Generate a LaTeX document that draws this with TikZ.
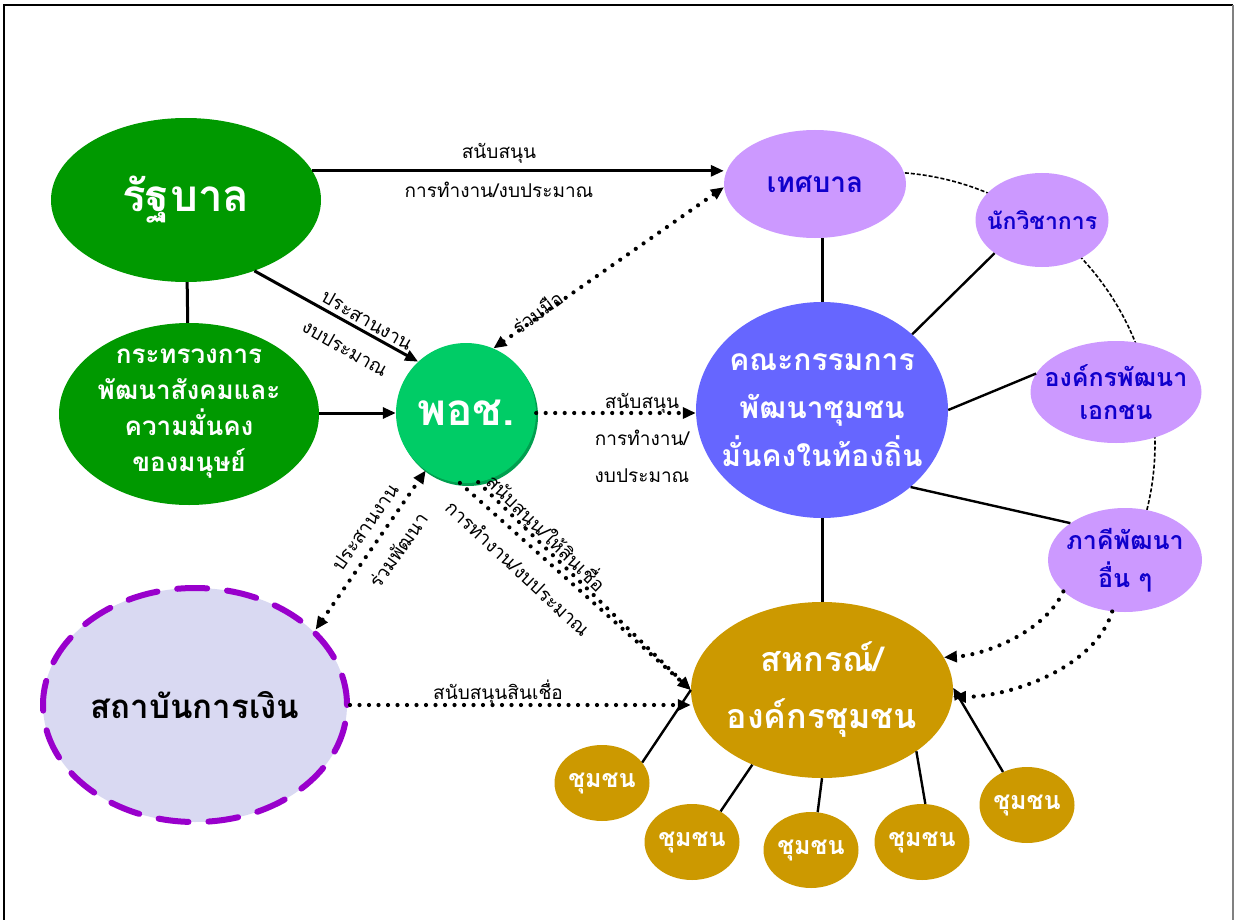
\documentclass[tikz,border=0pt]{standalone}
\usepackage{fontspec}
\setmainfont[Script=Thai]{Loma}
\usetikzlibrary{arrows.meta,shapes.geometric,backgrounds}
\definecolor{govgreen}{HTML}{009900}
\definecolor{pocgreen}{HTML}{00CC66}
\definecolor{pocshade}{HTML}{009F4F}
\definecolor{lilac}{HTML}{CC99FF}
\definecolor{navytext}{HTML}{1000CC}
\definecolor{kanablue}{HTML}{6666FF}
\definecolor{gold}{HTML}{CC9900}
\definecolor{finfill}{HTML}{D9D9F2}
\definecolor{finborder}{HTML}{9900CC}
\newcommand\myfs[2]{\fontsize{#1}{#2}\selectfont}
\begin{document}
\begin{tikzpicture}[x=1pt,y=-1pt,
  blob/.style={ellipse, inner sep=-30pt, align=center},
  lbl/.style={inner sep=0pt, font=\myfs{19}{26}},
  solidline/.style={line width=3pt},
  thinline/.style={line width=2.4pt},
  dotline/.style={line width=4.2pt, dash pattern=on 0pt off 9.5pt, line cap=round},
  arr/.style={-{Triangle[length=13pt,width=11pt]}},
  darr/.style={{Triangle[length=13pt,width=11pt]}-{Triangle[length=13pt,width=11pt]}},
  comm/.style={blob, fill=gold, minimum width=95, minimum height=76, text=white, font=\bfseries\myfs{25}{30}},
  purple/.style={blob, fill=lilac, text=navytext},
]
\useasboundingbox (0,0) rectangle (1236,920);

% nodes
\node[blob, fill=govgreen, minimum width=270, minimum height=164, text=white, font=\bfseries\myfs{44}{50}] (gov) at (186,200) {รัฐบาล};
\node[blob, fill=govgreen, minimum width=260, minimum height=182, text=white, font=\bfseries\myfs{26}{36}] (min) at (189,414) {กระทรวงการ\\พัฒนาสังคมและ\\ความมั่นคง\\ของมนุษย์};
\fill[pocshade] (468,416) circle[radius=70];
\node[circle, inner sep=0pt, fill=pocgreen, minimum size=140, text=white, font=\bfseries\myfs{44}{50}] (poc) at (466,413) {พอช.};
\node[purple, minimum width=182, minimum height=108, font=\bfseries\myfs{28}{32}] (tes) at (815,184) {เทศบาล};
\node[purple, minimum width=133, minimum height=94, font=\bfseries\myfs{23}{28}] (aca) at (1042,220) {นักวิชาการ};
\node[purple, minimum width=171, minimum height=102, font=\bfseries\myfs{25}{33}] (ngo) at (1116,392) {องค์กรพัฒนา\\เอกชน};
\node[purple, minimum width=154, minimum height=104, font=\bfseries\myfs{25}{38}] (oth) at (1125,560) {ภาคีพัฒนา\\อื่น ๆ};
\node[blob, fill=kanablue, minimum width=252, minimum height=216, text=white, font=\bfseries\myfs{30}{48}] (kana) at (822,410) {คณะกรรมการ\\พัฒนาชุมชน\\มั่นคงในท้องถิ่น};
\node[blob, fill=gold, minimum width=262, minimum height=176, text=white, font=\bfseries\myfs{34}{57}] (coop) at (822,690) {สหกรณ์/\\องค์กรชุมชน};
\node[comm] (c1) at (602,783) {ชุมชน};
\node[comm] (c2) at (692,842) {ชุมชน};
\node[comm] (c3) at (811,850) {ชุมชน};
\node[comm] (c4) at (922,842) {ชุมชน};
\node[comm] (c5) at (1027,805) {ชุมชน};
\node[blob, fill=finfill, draw=finborder, line width=6pt, dash pattern=on 30pt off 20pt, line cap=round, minimum width=304, minimum height=234, text=black, font=\bfseries\myfs{33}{38}] (fin) at (195,705) {สถาบันการเงิน};

% background: frame and dashed circle
\begin{scope}[on background layer]
  \draw[line width=2pt] (4,921) -- (4,5) -- (1233,5);
  \draw[gray, line width=1.5pt] (1233,5) -- (1233,921);
  \draw[line width=1.6pt, dash pattern=on 4pt off 2pt] (883,444) ++(-85.4:272) arc[start angle=-85.4, end angle=14, radius=272];
\end{scope}

% solid connectors
\draw[solidline] (gov) -- (min);
\draw[solidline, arr] (gov.13) -- (gov.13 -| tes.west);
\draw[solidline, arr] (gov.-46) -- (poc.133);
\draw[solidline, arr] (min.east |- poc.west) -- (poc.west);
\draw[solidline] (tes.south -| kana.north) -- (kana.north);
\draw[solidline] (kana.south) -- (coop.north);
\draw[thinline] (kana.40) -- (aca.215);
\draw[thinline] (kana.east) -- (ngo.167);
\draw[thinline] (kana.-41) -- (oth.146);
\draw[thinline] (coop.180) -- (c1.27);
\draw[thinline] (coop.227) -- (c2.47);
\draw[thinline] (coop.south) -- (c3.80);
\draw[thinline] (coop.-33) -- (c4.85);
\draw[thinline, {Triangle[length=12pt,width=10pt]}-] (coop.1) -- (c5.126);

% dotted connectors
\draw[dotline, darr] (poc.67) -- (tes.182);
\draw[dotline, arr] (poc.east) -- (poc.east -| kana.west);
\draw[dotline, darr] (fin.32) -- (poc.235);
\draw[dotline, arr] (poc.-95) -- (coop.west);
\draw[dotline, arr] (poc.-80) -- (coop.west);
\draw[dotline, arr] (fin.east) -- (fin.east -| coop.west);
\draw[dotline, arr] (oth.207.6) .. controls (1045,632) and (985,655) .. (coop.15.8);
\draw[dotline, arr] (oth.256) .. controls (1095,668) and (1010,697) .. (coop.-3.5);

% labels
\node[lbl] (l1) at (499,153) {สนับสนุน};
\node[lbl] (l2) at (499,190) {การทำงาน/งบประมาณ};
\node[lbl, rotate=-29.7] (l3) at (367,320) {ประสานงาน};
\node[lbl, rotate=-29.7] (l4) at (345,348) {งบประมาณ};
\node[lbl, rotate=36.4] (l5) at (537,312) {ร่วมมือ};
\node[lbl, align=center, font=\myfs{19}{37}] (l6) at (642,438) {สนับสนุน\\การทำงาน/\\งบประมาณ};
\node[lbl, rotate=54.9] (l7) at (365,527) {ประสานงาน};
\node[lbl, rotate=54.9] (l8) at (398,550) {ร่วมพัฒนา};
\node[lbl, rotate=-44.3] (l9) at (546,533) {สนับสนุน/ให้สินเชื่อ};
\node[lbl, rotate=-43] (l10) at (518,568) {การทำงาน/งบประมาณ};
\node[lbl] (l11) at (498,692) {สนับสนุนสินเชื่อ};
\end{tikzpicture}
\end{document}
